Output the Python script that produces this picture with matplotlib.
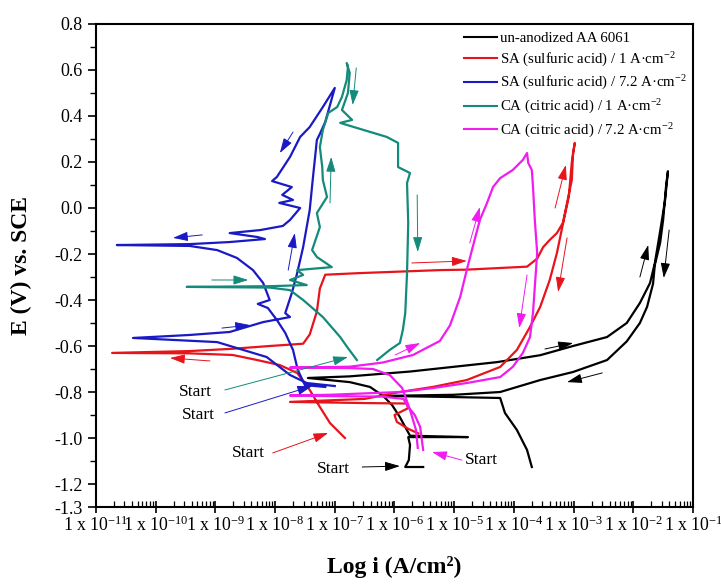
import numpy as np
import matplotlib
matplotlib.use('Agg')
import matplotlib.pyplot as plt
from matplotlib.ticker import FixedLocator, LogLocator, NullFormatter
from matplotlib.lines import Line2D

plt.rcParams['font.family'] = ['Liberation Serif', 'DejaVu Serif']
plt.rcParams['mathtext.default'] = 'regular'

# ---------------- data (log10 of current density, potential in V vs SCE) ----------------
black_logi = [-5.52, -5.82, -5.76, -5.74, -5.77, -4.77, -5.74, -5.81, -5.91, -6.04, -6.19, -6.41,
              -6.75, -7.45, -6.75, -5.74, -4.28, -3.56, -3.01, -2.44, -2.11, -1.89, -1.72, -1.64,
              -1.55, -1.47, -1.42, -1.45, -1.50, -1.55, -1.64, -1.67, -1.77, -1.89, -2.11, -2.44,
              -3.01, -3.56, -4.23, -5.0, -6.16, -5.0, -4.23, -4.15, -3.95, -3.78, -3.70]
black_E = [-1.126, -1.126, -1.096, -1.03, -0.996, -0.996, -0.99, -0.957, -0.909, -0.857, -0.817, -0.778,
           -0.757, -0.739, -0.732, -0.711, -0.670, -0.640, -0.600, -0.561, -0.50, -0.413, -0.326, -0.24,
           -0.10, 0.03, 0.16, 0.10, -0.05, -0.15, -0.248, -0.33, -0.43, -0.50, -0.58, -0.661,
           -0.713, -0.748, -0.800, -0.812, -0.817, -0.822, -0.826, -0.891, -0.965, -1.052, -1.126]

red_logi = [-6.83, -7.08, -7.25, -7.42, -7.63, -7.92, -8.30, -8.71, -9.43, -10.73, -9.43, -8.71, -8.09,
            -7.53, -7.42, -7.30, -7.25, -7.16, -6.58, -5.24, -4.79, -3.78, -3.61, -3.51, -3.40, -3.28,
            -3.18, -3.11, -3.03, -3.01, -2.98, -3.03, -3.08, -3.19, -3.28, -3.40, -3.56, -3.73, -3.95,
            -4.23, -4.79, -5.36, -5.91, -6.5, -7.75, -6.5, -5.8, -5.77, -6.0, -5.96, -5.77, -5.6]
red_E = [-1.0, -0.935, -0.865, -0.791, -0.717, -0.683, -0.661, -0.639, -0.632, -0.630, -0.622, -0.612, -0.600,
         -0.590, -0.55, -0.45, -0.35, -0.29, -0.283, -0.270, -0.268, -0.255, -0.22, -0.17, -0.139, -0.109,
         -0.065, 0.022, 0.122, 0.239, 0.283, 0.20, 0.05, -0.083, -0.196, -0.313, -0.43, -0.517, -0.617,
         -0.691, -0.748, -0.778, -0.80, -0.83, -0.843, -0.848, -0.85, -0.87, -0.90, -0.93, -0.96, -0.98]

blue_logi = [-7.0, -7.47, -7.75, -8.14, -8.97, -10.38, -9.43, -8.76, -8.20, -7.75, -7.83, -7.72, -7.63,
             -7.53, -7.42, -7.37, -7.30, -7.25, -7.16, -7.0, -7.20, -7.42, -7.58, -7.75, -7.97, -8.05,
             -7.72, -7.88, -7.70, -7.93, -7.58, -7.75, -7.87, -8.25, -8.76, -8.30, -8.17, -8.76, -9.43,
             -10.65, -9.43, -8.97, -8.64, -8.37, -8.20, -8.09, -8.29, -8.12, -7.97, -7.83, -7.70, -7.62,
             -7.50, -7.16]
blue_E = [-0.774, -0.761, -0.726, -0.648, -0.583, -0.565, -0.552, -0.539, -0.496, -0.474, -0.457, -0.370, -0.283,
          -0.170, -0.009, 0.122, 0.296, 0.322, 0.374, 0.522, 0.439, 0.352, 0.309, 0.222, 0.135, 0.117,
          0.091, 0.057, 0.035, 0.022, 0.0, -0.052, -0.078, -0.096, -0.109, -0.126, -0.135, -0.148, -0.157,
          -0.161, -0.165, -0.183, -0.217, -0.270, -0.326, -0.40, -0.417, -0.435, -0.487, -0.543, -0.617, -0.704,
          -0.770, -0.778]

teal_logi = [-6.63, -6.78, -6.91, -7.20, -7.53, -7.75, -8.09, -9.48, -8.09, -7.47, -7.75, -7.53, -7.63,
             -7.05, -7.30, -7.38, -7.25, -7.30, -7.13, -7.20, -7.21, -7.25, -7.20, -7.11, -6.96, -6.88,
             -6.80, -6.78, -6.80, -6.75, -6.78, -6.88, -6.71, -6.91, -6.63, -6.13, -5.94, -5.94, -5.74,
             -5.79, -5.77, -5.79, -5.82, -5.86, -5.91, -6.08, -6.29]
teal_E = [-0.661, -0.609, -0.561, -0.474, -0.40, -0.357, -0.346, -0.343, -0.340, -0.335, -0.313, -0.291, -0.270,
          -0.257, -0.213, -0.183, -0.083, -0.022, 0.048, 0.122, 0.178, 0.265, 0.339, 0.413, 0.439, 0.483,
          0.557, 0.613, 0.630, 0.587, 0.50, 0.426, 0.383, 0.370, 0.348, 0.309, 0.283, 0.178, 0.152,
          0.109, -0.065, -0.283, -0.457, -0.530, -0.587, -0.617, -0.661]

mag_logi = [-5.61, -5.64, -5.74, -5.87, -6.08, -6.36, -6.75, -7.75, -6.75, -6.2, -5.69, -5.24, -5.07,
            -4.90, -4.79, -4.69, -4.57, -4.45, -4.35, -4.23, -4.02, -3.85, -3.78, -3.76, -3.70, -3.68,
            -3.65, -3.61, -3.65, -3.68, -3.73, -3.85, -4.02, -4.23, -4.79, -5.36, -5.91, -7.08, -7.75,
            -7.08, -6.2, -5.85, -5.77, -5.66, -5.57, -5.52]
mag_E = [-1.043, -0.965, -0.878, -0.783, -0.726, -0.700, -0.696, -0.694, -0.690, -0.672, -0.639, -0.578, -0.51,
         -0.387, -0.270, -0.170, -0.052, 0.022, 0.091, 0.130, 0.165, 0.209, 0.239, 0.196, 0.165, 0.091,
         -0.052, -0.196, -0.343, -0.455, -0.561, -0.630, -0.691, -0.735, -0.761, -0.783, -0.80, -0.812, -0.815,
         -0.818, -0.82, -0.83, -0.865, -0.90, -0.952, -1.052]

series_labels = ['un-anodized AA 6061',
                 'SA (sulfuric acid) / 1 A\u00b7cm$^{-2}$',
                 'SA (sulfuric acid) / 7.2 A\u00b7cm$^{-2}$',
                 'CA (citric acid) / 1 A\u00b7cm$^{-2}$',
                 'CA (citric acid) / 7.2 A\u00b7cm$^{-2}$']
series_colors = ['#000000', '#e8141b', '#1a1ac4', '#138a7a', '#f01cf0']
series_logi = [black_logi, red_logi, blue_logi, teal_logi, mag_logi]
series_E = [black_E, red_E, blue_E, teal_E, mag_E]

# scan-direction arrows: (series index, tail logi, tail E, head logi, head E)
arrows = [
    (0, -6.54, -1.126, -5.91, -1.122), (0, -3.48, -0.613, -3.01, -0.587), (0, -2.52, -0.717, -3.11, -0.757),
    (0, -1.89, -0.30, -1.75, -0.161), (0, -1.40, -0.096, -1.49, -0.304),
    (1, -8.04, -1.065, -7.11, -0.978), (1, -9.09, -0.665, -9.76, -0.652), (1, -5.71, -0.239, -4.79, -0.230),
    (1, -3.31, 0.0, -3.13, 0.187), (1, -3.11, -0.130, -3.26, -0.365),
    (2, -8.84, -0.891, -7.38, -0.774), (2, -8.89, -0.522, -8.42, -0.509), (2, -7.78, -0.270, -7.67, -0.109),
    (2, -7.70, 0.330, -7.92, 0.239), (2, -9.22, -0.117, -9.71, -0.130),
    (3, -8.84, -0.791, -6.78, -0.648), (3, -9.06, -0.313, -8.45, -0.313), (3, -7.08, 0.022, -7.06, 0.222),
    (3, -6.64, 0.609, -6.70, 0.448), (3, -5.62, 0.057, -5.61, -0.191),
    (4, -4.87, -1.096, -5.37, -1.061), (4, -5.99, -0.639, -5.57, -0.587), (4, -4.74, -0.152, -4.57, 0.004),
    (4, -3.78, -0.291, -3.91, -0.522),
]
# "Start" labels (logi, E)
start_logi = [-7.03, -8.45, -9.29, -9.34, -4.55]
start_E = [-1.135, -1.065, -0.90, -0.80, -1.096]

xtick_exp = list(range(-11, 0))
ytick_major = [-1.3, -1.2, -1.0, -0.8, -0.6, -0.4, -0.2, 0.0, 0.2, 0.4, 0.6, 0.8]
ytick_minor = [-1.1, -0.9, -0.7, -0.5, -0.3, -0.1, 0.1, 0.3, 0.5, 0.7]

# ---------------- figure ----------------
fig = plt.figure(figsize=(7.21, 5.85), dpi=100)
ax = fig.add_axes([0.1331, 0.1333, 0.8281, 0.8257])

for lg, E, c in zip(series_logi, series_E, series_colors):
    ax.plot(10.0 ** np.array(lg), E, color=c, lw=1.6, solid_joinstyle='round')

for idx, tl, te, hl, he in arrows:
    ax.annotate('', xy=(10.0 ** hl, he), xytext=(10.0 ** tl, te),
                arrowprops=dict(arrowstyle='-|>,head_length=0.7,head_width=0.22',
                                color=series_colors[idx], lw=0.7, shrinkA=0, shrinkB=0,
                                mutation_scale=13))

for sl, se in zip(start_logi, start_E):
    ax.text(10.0 ** sl, se, 'Start', ha='center', va='center', fontsize=12.5)

ax.set_xscale('log')
ax.set_xlim(1e-11, 1e-1)
ax.set_ylim(-1.3, 0.8)

ax.set_xticks([10.0 ** k for k in xtick_exp])
ax.set_xticklabels(['1 x 10$^{%d}$' % k for k in xtick_exp], fontsize=12.8)
ax.xaxis.set_minor_locator(LogLocator(base=10, subs=np.arange(2, 10), numticks=100))
ax.xaxis.set_minor_formatter(NullFormatter())

ax.yaxis.set_major_locator(FixedLocator(ytick_major))
ax.set_yticklabels(['%.1f' % v for v in ytick_major], fontsize=13)
ax.yaxis.set_minor_locator(FixedLocator(ytick_minor))

ax.tick_params(axis='x', which='major', direction='inout', length=9, width=1.2, pad=2, top=False)
ax.tick_params(axis='x', which='minor', direction='in', length=4, width=0.9, top=False)
ax.tick_params(axis='y', which='major', direction='out', length=6, width=1.2, right=False)
ax.tick_params(axis='y', which='minor', direction='out', length=4, width=1.0, right=False)
for s in ax.spines.values():
    s.set_linewidth(1.5)

ax.set_xlabel('Log i (A/cm\u00b2)', fontsize=17, fontweight='bold', labelpad=15)
ax.set_ylabel('E (V) vs. SCE', fontsize=17, fontweight='bold', labelpad=16)

handles = [Line2D([], [], color=c, lw=1.5) for c in series_colors]
ax.legend(handles, series_labels, loc='upper left', bbox_to_anchor=(0.612, 0.99),
          frameon=False, fontsize=10.7, handlelength=2.2, handletextpad=0.2,
          labelspacing=0.36, borderaxespad=0, borderpad=0.2)

fig.savefig('out.png', dpi=100)
